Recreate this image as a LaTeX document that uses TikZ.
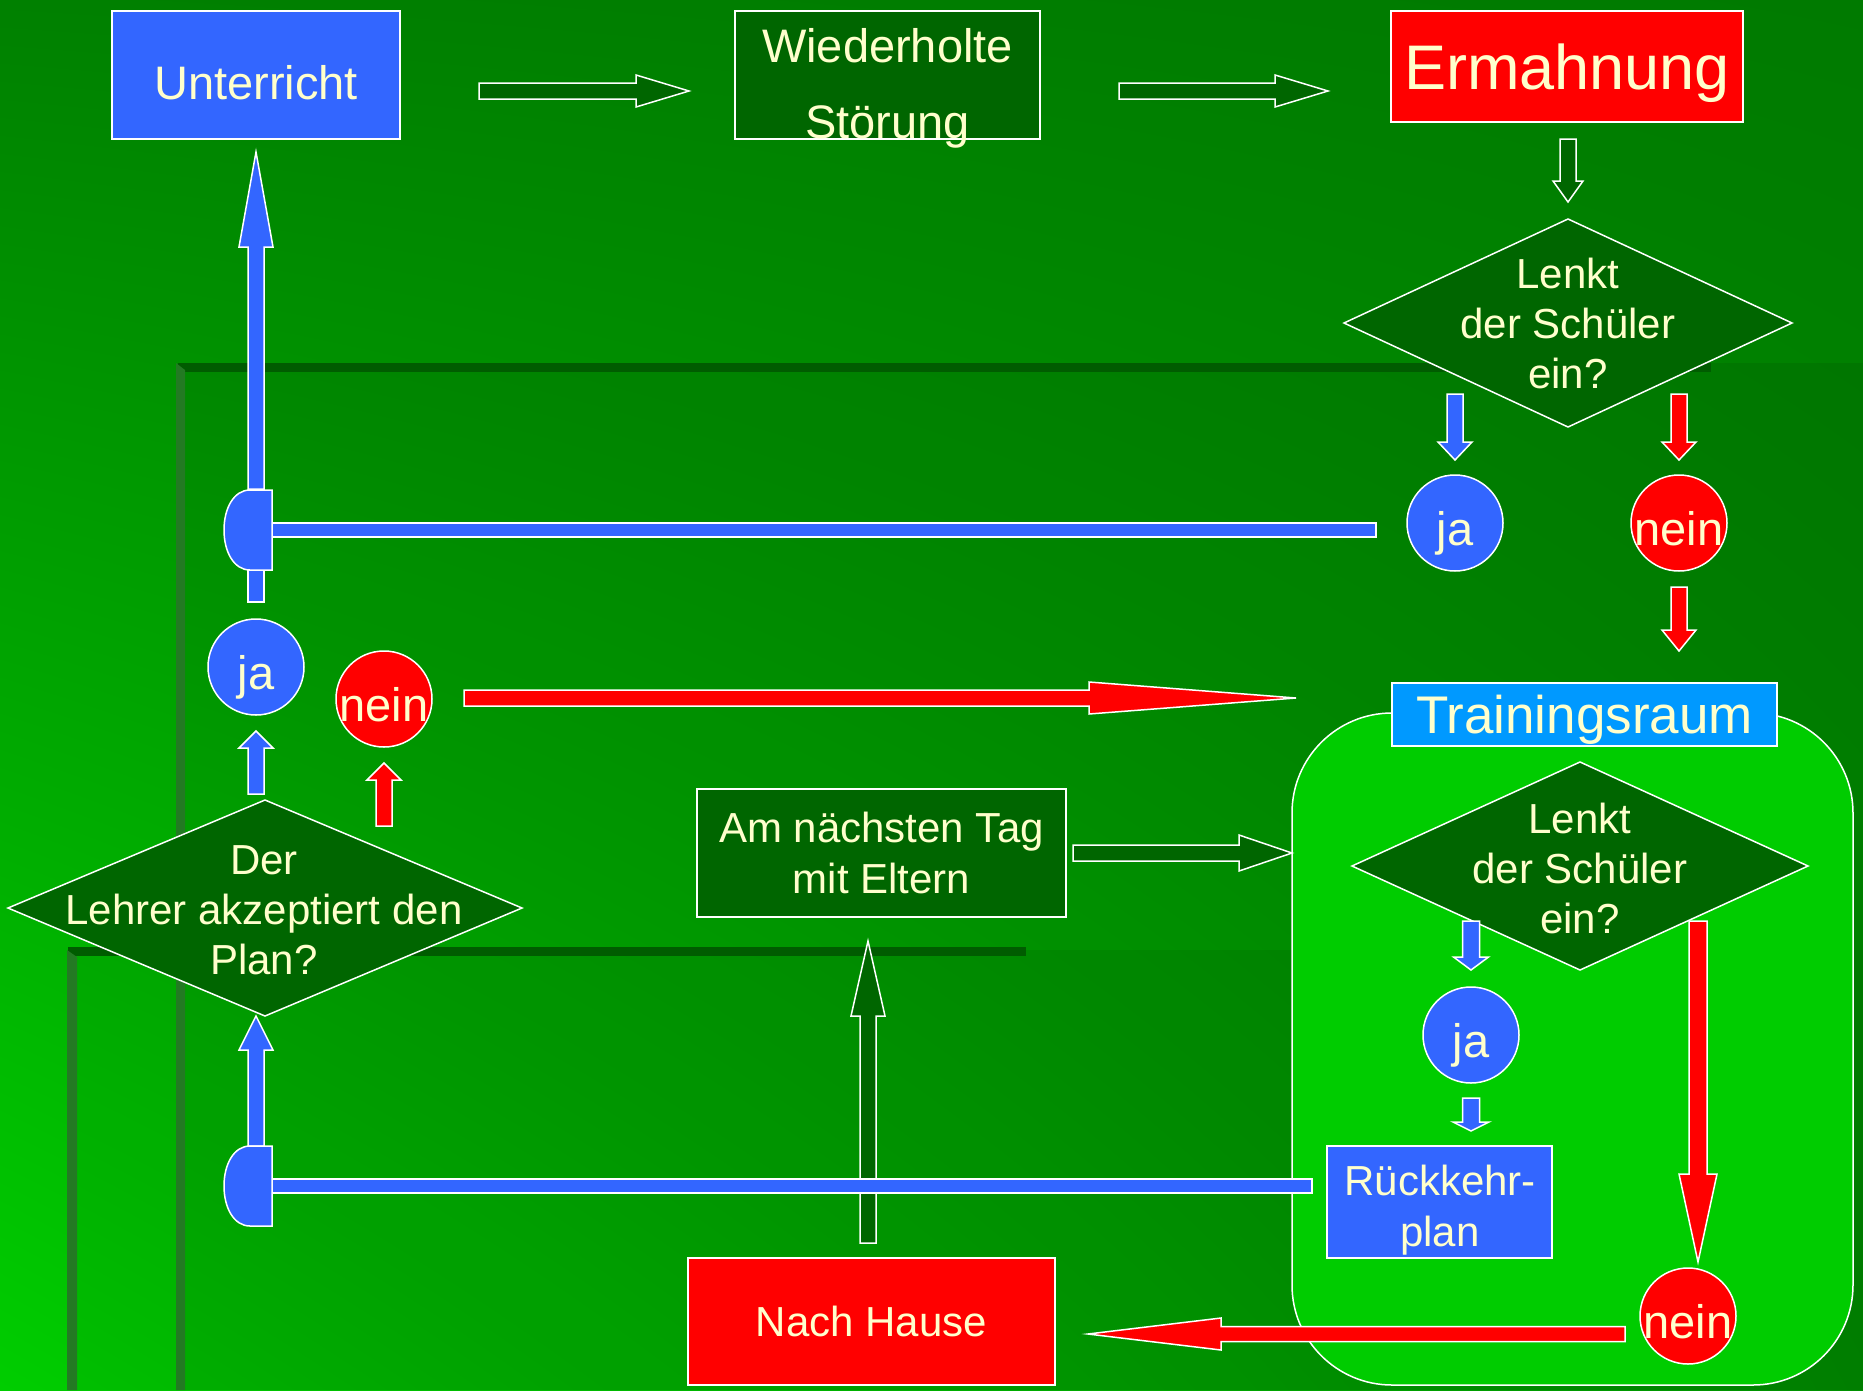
\documentclass[tikz,border=0pt]{standalone}
\usepackage{fontspec}
\setmainfont{Liberation Sans}
\usetikzlibrary{shapes.geometric, calc, shadings}

\definecolor{boxblue}{RGB}{51,102,255}
\definecolor{boxgreen}{RGB}{0,102,0}
\definecolor{boxred}{RGB}{255,0,0}
\definecolor{roomblue}{RGB}{0,153,255}
\definecolor{roomgreen}{RGB}{0,204,0}
\definecolor{txtyellow}{RGB}{255,255,204}
\definecolor{bevel}{RGB}{35,122,35}
\definecolor{band}{RGB}{0,92,0}
\definecolor{bgul}{RGB}{0,128,0}
\definecolor{bgur}{RGB}{0,122,0}
\definecolor{bgll}{RGB}{0,205,0}
\definecolor{bglr}{RGB}{0,145,0}

% block arrow: [style]{from}{to}{shaft half width}{head half width}{head length}
\newcommand{\blockarrow}[6][]{%
  \path (#2) coordinate (ba-s) (#3) coordinate (ba-t);
  \path ($(ba-t)!#6!(ba-s)$) coordinate (ba-h);
  \draw[#1] ($(ba-s)!#4!90:(ba-t)$) -- ($(ba-h)!#4!90:(ba-t)$) -- ($(ba-h)!#5!90:(ba-t)$) -- (ba-t)
    -- ($(ba-h)!#5!-90:(ba-t)$) -- ($(ba-h)!#4!-90:(ba-t)$) -- ($(ba-s)!#4!-90:(ba-t)$) -- cycle;}

\begin{document}
\begin{tikzpicture}
            [x=1pt, y=-1pt, text=txtyellow, font=\fontsize{42}{50}\selectfont,
            basebox/.style={draw=white, line width=1.5pt, inner sep=0pt, outer sep=0pt, align=center},
            bluebox/.style={basebox, fill=boxblue},
            greenbox/.style={basebox, fill=boxgreen},
            redbox/.style={basebox, fill=boxred},
            dia/.style={basebox, fill=boxgreen, shape=diamond},
            circ/.style={basebox, shape=circle, minimum size=96pt, inner sep=-3pt, font=\fontsize{47}{56}\selectfont,
                text height=44pt, text depth=0pt},
            txt/.style={inner sep=0pt, align=center},
            bluearr/.style={draw=white, line width=1.5pt, fill=boxblue},
            redarr/.style={draw=white, line width=1.5pt, fill=boxred},
            greenarr/.style={draw=white, line width=1.5pt, fill=boxgreen},
            junction/.pic={\draw[bluearr] (24,-40) -- (2,-40) .. controls (-14,-40) and (-24,-22) .. (-24,0)
                .. controls (-24,22) and (-14,40) .. (2,40) -- (24,40) -- cycle;}]
            % background and template panels
            \shade[upper left=bgul, upper right=bgur, lower left=bgll, lower right=bglr] (0,0) rectangle (1863,1390);
            \fill[black, opacity=0.07] (178,363) rectangle (1863,1390);
            \fill[black, opacity=0.06] (68,950) rectangle (1863,1390);
            \fill[band] (178,363) rectangle (1711,372);
            \fill[band] (68,947) rectangle (1026,956);
            \fill[bevel] (176,363) -- (185,370) -- (185,1390) -- (176,1390) -- cycle;
            \fill[bevel] (67,950) -- (77,957) -- (77,1390) -- (67,1390) -- cycle;

            \node[basebox, fill=roomgreen, rounded corners=100pt, minimum width=561pt, minimum height=672pt] (raum) at (1572.5,1049) {};

            \node[bluebox, minimum width=288pt, minimum height=128pt, font=\fontsize{47}{56}\selectfont, text height=48pt, text depth=0pt] (unt) at (256,75) {Unterricht};
            \node[greenbox, minimum width=305pt, minimum height=128pt] (wied) at (887.5,75) {};
            \node[txt, font=\fontsize{47}{76}\selectfont] (wied-txt) at (887.5,88) {Wiederholte\\Störung};
            \node[redbox, minimum width=352pt, minimum height=111pt, font=\fontsize{63}{70}\selectfont, text depth=0pt] (erm) at (1567,66.5) {Ermahnung};

            \node[dia, minimum width=448pt, minimum height=208pt] (lenk1) at (1568,323) {};
            \node[txt] (lenk1-txt) at (1568,323) {Lenkt\\der Schüler\\ein?};
            \node[circ, fill=boxblue] (ja1) at (1455,523) {ja};
            \node[circ, fill=boxred] (nein1) at (1679,523) {nein};

            \node[basebox, fill=roomblue, minimum width=385pt, minimum height=63pt, font=\fontsize{53}{60}\selectfont, text depth=0pt] (trl) at (1584.5,714.5) {Trainingsraum};
            \node[dia, minimum width=456pt, minimum height=208pt] (lenk2) at (1580,866) {};
            \node[txt] (lenk2-txt) at (1580,868) {Lenkt\\der Schüler\\ein?};
            \node[circ, fill=boxblue] (ja2) at (1471,1035) {ja};
            \node[bluebox, minimum width=225pt, minimum height=112pt] (rueck) at (1439.5,1202) {};
            \node[txt, font=\fontsize{42}{51}\selectfont] (rueck-txt) at (1440,1210) {Rückkehr-\\plan};
            \node[circ, fill=boxred] (nein2) at (1688,1316) {nein};

            \node[redbox, minimum width=367pt, minimum height=127pt] (hause) at (871.5,1321.5) {Nach Hause};
            \node[greenbox, minimum width=369pt, minimum height=128pt, font=\fontsize{42}{51}\selectfont] (tag) at (881.5,853) {Am nächsten Tag\\mit Eltern};

            \node[dia, minimum width=514pt, minimum height=216pt] (plan) at (265,908) {};
            \node[txt] (plan-txt) at (264,910) {Der\\Lehrer akzeptiert den\\Plan?};
            \node[circ, fill=boxblue] (ja3) at (256,667) {ja};
            \node[circ, fill=boxred] (nein3) at (384,699) {nein};

            \coordinate (j1) at (248,530);
            \coordinate (j2) at (248,1186);

            % arrows
            \blockarrow[greenarr]{$(unt.east)+(79,16)$}{$(wied.west)+(-46,16)$}{8pt}{16pt}{53pt}
            \blockarrow[greenarr]{$(wied.east)+(79,16)$}{$(erm.west)+(-63,24.5)$}{8pt}{16pt}{53pt}
            \blockarrow[greenarr]{$(erm.south)+(1,17)$}{$(lenk1.north)+(0,-17)$}{8pt}{15pt}{21pt}
            \blockarrow[bluearr]{$(ja1.north)+(0,-81)$}{$(ja1.north)+(0,-15)$}{8pt}{17pt}{18pt}
            \blockarrow[redarr]{$(nein1.north)+(0,-81)$}{$(nein1.north)+(0,-15)$}{8pt}{17pt}{18pt}
            \blockarrow[redarr]{$(nein1.south)+(0,16)$}{$(nein1.south)+(0,80)$}{8pt}{17pt}{21pt}
            \blockarrow[bluearr]{$(j1)+(8,-41)$}{$(unt.south)+(0,13)$}{8pt}{17pt}{95pt}
            \blockarrow[bluearr]{$(plan.north)+(-9,-6)$}{$(ja3.south)+(0,16)$}{8pt}{17pt}{17pt}
            \blockarrow[redarr]{$(nein3.south)+(0,79)$}{$(nein3.south)+(0,16)$}{8pt}{17pt}{17pt}
            \blockarrow[redarr]{$(nein3.east)+(32,-1)$}{$(trl.west)+(-96,-16.5)$}{8pt}{16pt}{207pt}
            \blockarrow[greenarr]{$(tag.east)+(7,0)$}{raum.west |- tag.east}{8pt}{18pt}{53pt}
            \blockarrow[greenarr]{$(hause.north)+(-3.5,-15)$}{$(tag.south)+(-13.5,24)$}{8pt}{17pt}{75pt}
            \blockarrow[bluearr]{$(ja2.north)+(0,-66)$}{$(ja2.north)+(0,-17)$}{8.5pt}{17.5pt}{13pt}
            \blockarrow[bluearr]{$(ja2.south)+(0,15)$}{$(ja2.south)+(0,48)$}{8.5pt}{18pt}{9pt}
            \blockarrow[redarr]{$(nein2.north)+(10,-347)$}{$(nein2.north)+(10,-6)$}{9pt}{19pt}{88pt}
            \blockarrow[redarr]{$(nein2.west)+(-15,18)$}{$(hause.east)+(33,12.5)$}{7.5pt}{16pt}{133pt}
            \blockarrow[bluearr]{$(j2)+(8,-40)$}{$(plan.south)+(-9,0)$}{8pt}{17pt}{34pt}

            % return lines
            \draw[bluearr] ($(j1)+(24,-7)$) rectangle ($(ja1.west)+(-31,14)$);
            \draw[bluearr] ($(j1)+(0,40)$) rectangle ($(ja3.north)+(8,-17)$);
            \draw[bluearr] ($(j2)+(24,-7)$) rectangle ($(rueck.west)+(-15,-9)$);
            \pic at (j1) {junction};
            \pic at (j2) {junction};
        \end{tikzpicture}
\end{document}
